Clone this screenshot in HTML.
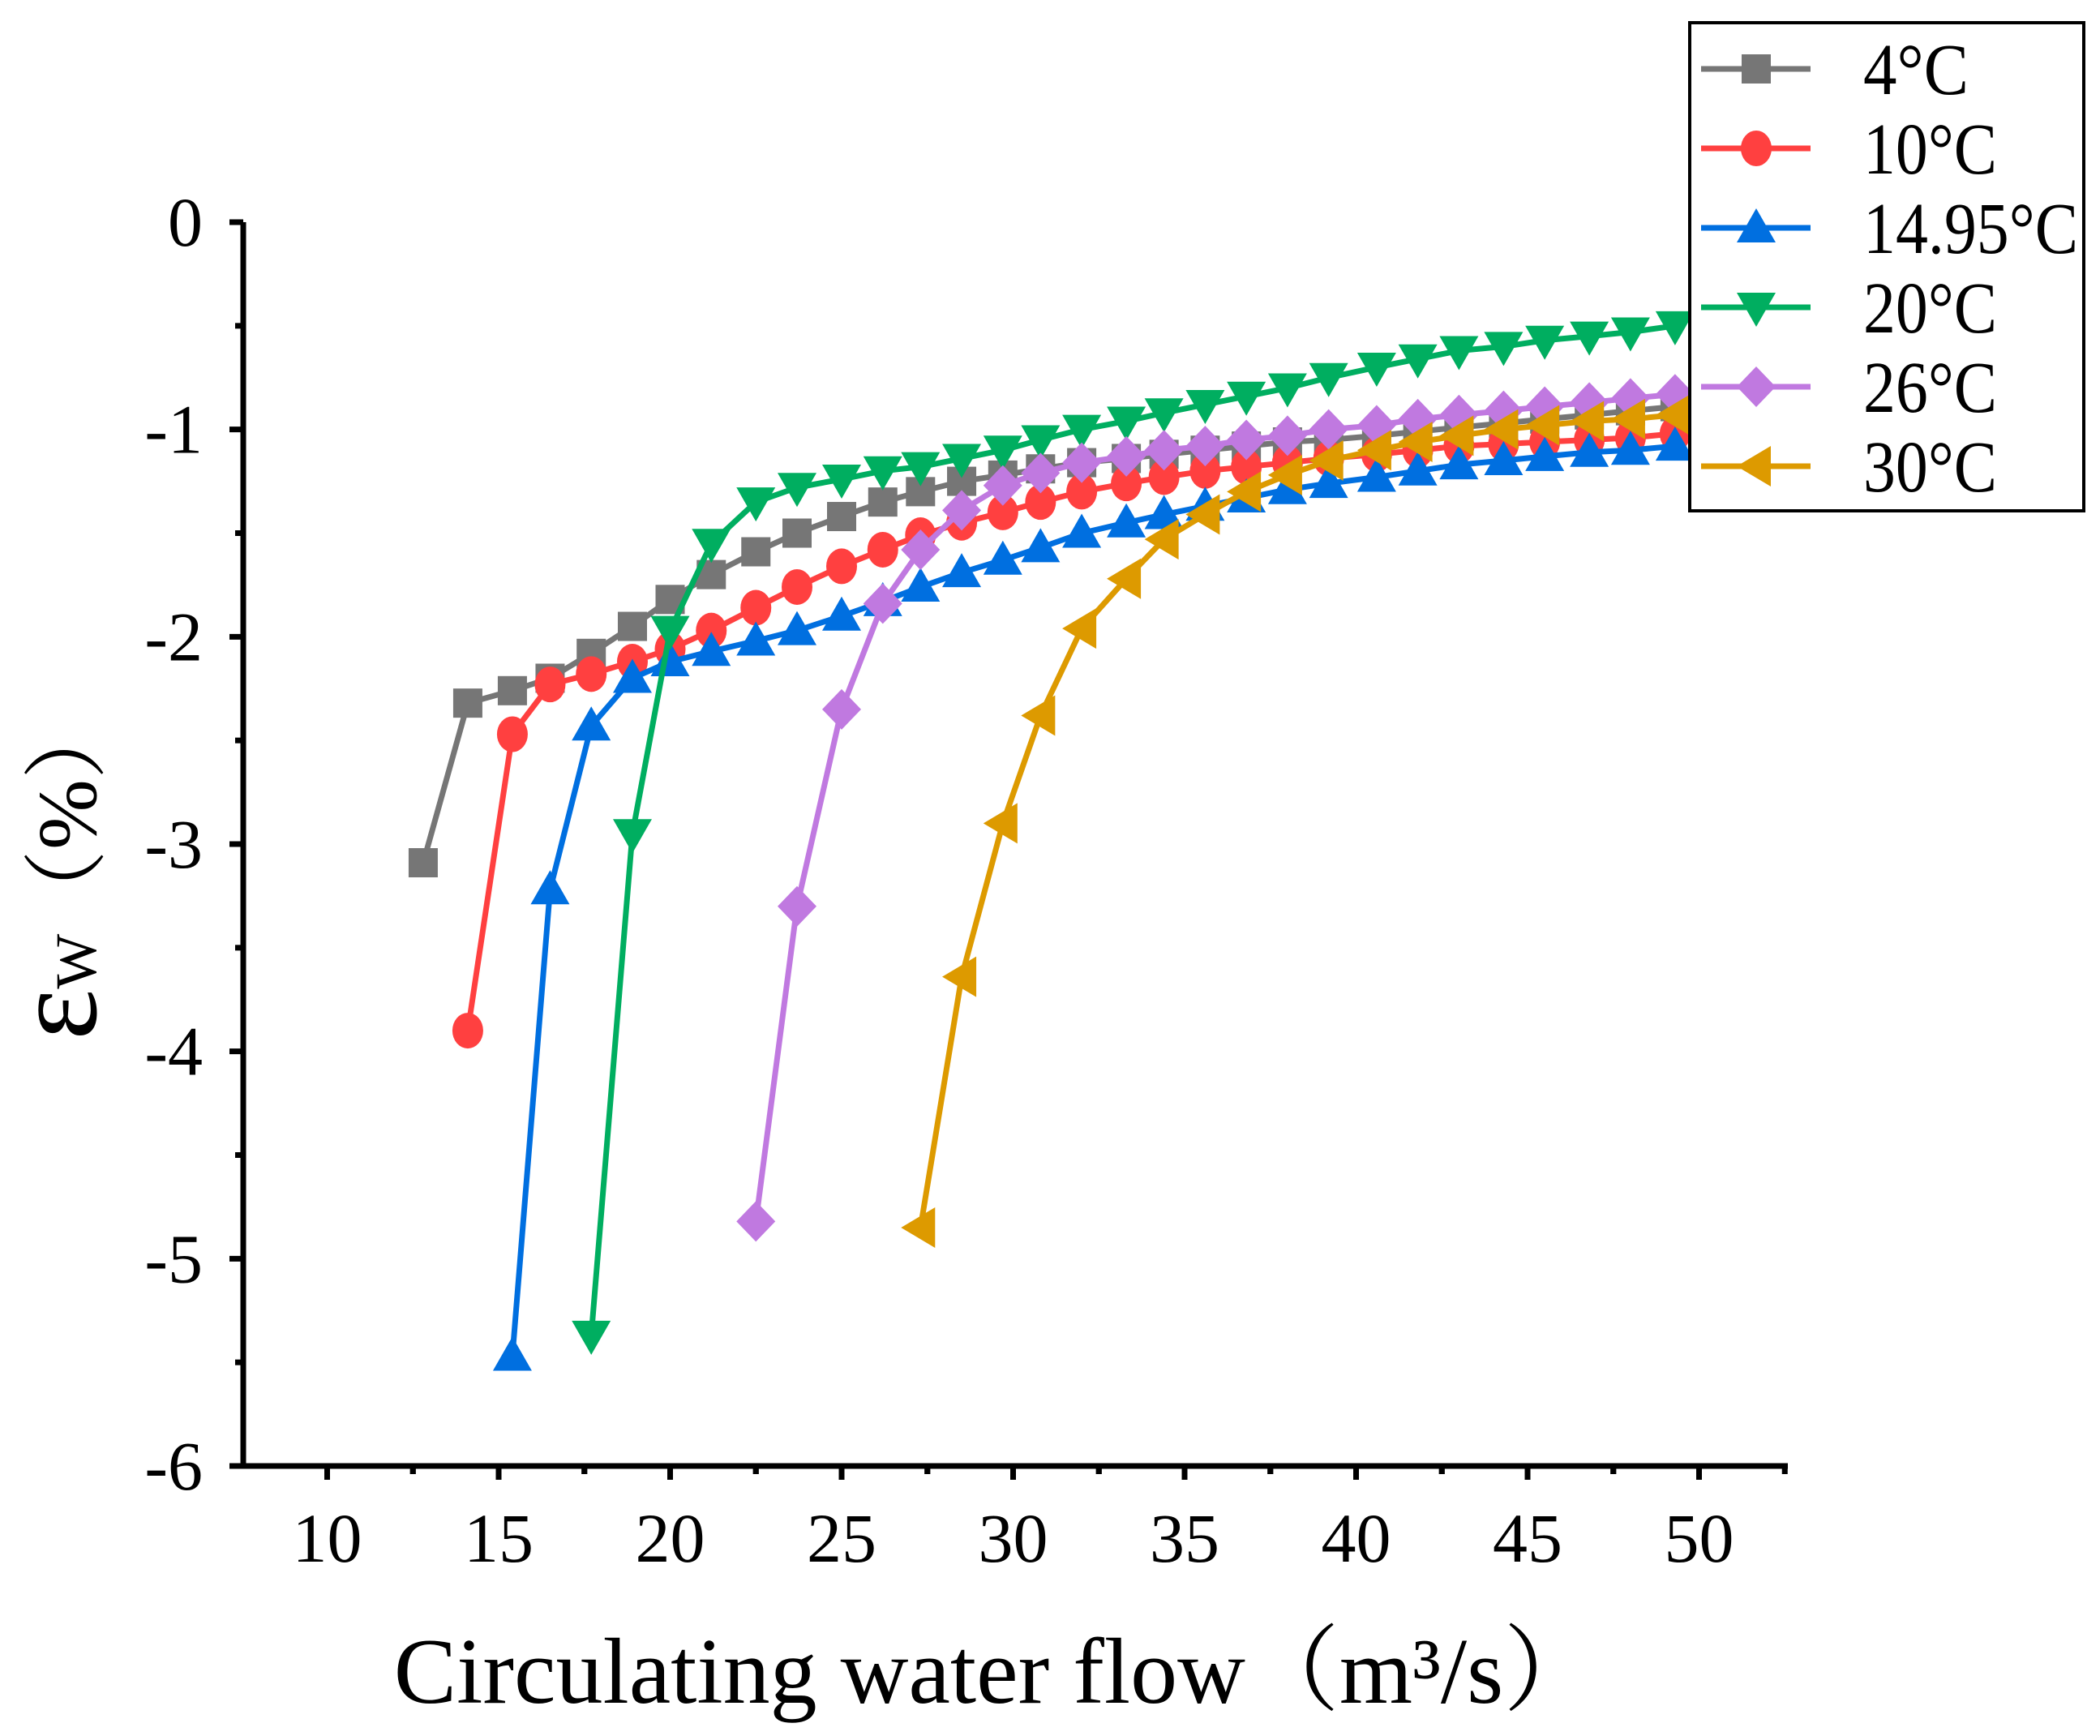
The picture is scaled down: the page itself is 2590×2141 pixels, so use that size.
<!DOCTYPE html>
<html><head><meta charset="utf-8"><style>
html,body{margin:0;padding:0;background:#fff;}
svg{display:block;font-family:"Liberation Serif","Noto Serif CJK SC",serif;}
</style></head><body>
<svg id="chart" width="2590" height="2141" viewBox="0 0 2590 2141" xmlns="http://www.w3.org/2000/svg">
<g id="axes"></g>
<g id="series"></g>
<g id="legend"></g>
<text x="1228" y="2100" font-size="116" text-anchor="middle">Circulating water flow（m³/s）</text>
<g transform="translate(118,1070) rotate(-90)">
<text text-anchor="middle" font-size="150">ε<tspan font-size="72">W</tspan><tspan font-size="104">（%）</tspan></text>
</g>
</svg>
<script>
const xGrid = [12.8,14.1,15.4,16.5,17.7,18.9,20.0,21.2,22.5,23.7,25.0,26.2,27.3,28.5,29.7,30.8,32.0,33.3,34.4,35.6,36.8,38.0,39.2,40.6,41.8,43.0,44.3,45.5,46.8,48.0,49.3];
const seriesNames = ["4°C","10°C","14.95°C","20°C","26°C","30°C"];
const startIndex = [0,1,2,4,8,12];
const s4 = [-3.09,-2.32,-2.26,-2.2,-2.08,-1.95,-1.82,-1.7,-1.59,-1.5,-1.42,-1.35,-1.3,-1.25,-1.22,-1.19,-1.16,-1.14,-1.12,-1.1,-1.08,-1.06,-1.05,-1.03,-1.01,-0.99,-0.97,-0.95,-0.93,-0.91,-0.89];
const s10 = [-3.9,-2.47,-2.23,-2.18,-2.12,-2.06,-1.97,-1.86,-1.76,-1.66,-1.58,-1.51,-1.45,-1.4,-1.35,-1.3,-1.26,-1.23,-1.2,-1.18,-1.16,-1.14,-1.12,-1.1,-1.08,-1.07,-1.06,-1.05,-1.04,-1.02];
const s1495 = [-5.47,-3.22,-2.43,-2.2,-2.12,-2.07,-2.02,-1.97,-1.9,-1.83,-1.76,-1.69,-1.63,-1.57,-1.5,-1.45,-1.41,-1.37,-1.33,-1.29,-1.26,-1.23,-1.2,-1.17,-1.15,-1.13,-1.11,-1.1,-1.08];
const s20 = [-5.37,-2.95,-1.97,-1.55,-1.35,-1.28,-1.24,-1.2,-1.18,-1.14,-1.1,-1.05,-1.0,-0.96,-0.92,-0.88,-0.84,-0.8,-0.75,-0.7,-0.66,-0.62,-0.6,-0.57,-0.55,-0.53,-0.5,-0.47];
const s26 = [-4.82,-3.3,-2.35,-1.84,-1.58,-1.39,-1.27,-1.21,-1.16,-1.13,-1.1,-1.08,-1.05,-1.03,-1.0,-0.98,-0.95,-0.93,-0.91,-0.89,-0.87,-0.85,-0.83,-0.8];
const s30 = [-4.85,-3.64,-2.9,-2.38,-1.96,-1.72,-1.53,-1.41,-1.3,-1.22,-1.15,-1.1,-1.06,-1.03,-1.0,-0.98,-0.96,-0.95,-0.93];
const xTicks = [10,15,20,25,30,35,40,45,50];
const yTicks = [0,-1,-2,-3,-4,-5,-6];

const allSeries=[s4,s10,s1495,s20,s26,s30];
const colors=["#767676","#ff4040","#006fe0","#00ae60","#c079e0","#dd9a00"];
const shapes=["square","circle","up","down","diamond","left"];
const NS="http://www.w3.org/2000/svg";
const X0=300,XR=2205,YT=274,YB=1808;
function X(v){return 403.5+(v-10)*42.3;}
function Y(v){return YT+(0-v)*(YB-YT)/6;}
function mk(tag,attrs,parent){const e=document.createElementNS(NS,tag);for(const k in attrs)e.setAttribute(k,attrs[k]);parent.appendChild(e);return e;}

const axes=document.getElementById('axes');
let l=mk('line',{x1:X0,y1:YT,x2:X0,y2:YB+3,stroke:'#000','stroke-width':7},axes);


l=mk('line',{x1:X0-3,y1:YB,x2:XR,y2:YB,stroke:'#000','stroke-width':7},axes);


yTicks.forEach(v=>{
  const t=mk('line',{x1:X0-17,y1:Y(v),x2:X0,y2:Y(v),stroke:'#000','stroke-width':7},axes);
  
  
  const tx=mk('text',{x:X0-50,y:Y(v)+29,'font-size':86,'text-anchor':'end'},axes);
  tx.textContent=v;
  
  
  if(v>-6){const m=mk('line',{x1:X0-10,y1:Y(v-0.5),x2:X0,y2:Y(v-0.5),stroke:'#000','stroke-width':7},axes);
  
  }
});
xTicks.forEach(v=>{
  const t=mk('line',{x1:X(v),y1:YB,x2:X(v),y2:YB+17,stroke:'#000','stroke-width':7},axes);
  
  
  const tx=mk('text',{x:X(v),y:YB+118,'font-size':86,'text-anchor':'middle'},axes);
  tx.textContent=v;
  
  
  [v-2.5,v+2.5].forEach(mv=>{if(X(mv)>X0&&X(mv)<XR){const m=mk('line',{x1:X(mv),y1:YB,x2:X(mv),y2:YB+10,stroke:'#000','stroke-width':7},axes);
  
  }});
});

function marker(shape,cx,cy,c,parent){
  const r=18;let e;
  if(shape==='square')e=mk('rect',{x:cx-r,y:cy-r,width:2*r,height:2*r,fill:c},parent);
  else if(shape==='circle')e=mk('ellipse',{cx:cx,cy:cy,rx:r+1,ry:r+4,fill:c},parent);
  else if(shape==='up')e=mk('polygon',{points:`${cx},${cy-r-6} ${cx-r-6},${cy+r} ${cx+r+6},${cy+r}`,fill:c},parent);
  else if(shape==='down')e=mk('polygon',{points:`${cx},${cy+r+6} ${cx-r-6},${cy-r} ${cx+r+6},${cy-r}`,fill:c},parent);
  else if(shape==='diamond')e=mk('polygon',{points:`${cx},${cy-r-7} ${cx+r+6},${cy} ${cx},${cy+r+7} ${cx-r-6},${cy}`,fill:c},parent);
  else e=mk('polygon',{points:`${cx-r-6},${cy} ${cx+r},${cy-r-7} ${cx+r},${cy+r+7}`,fill:c},parent);
  return e;
}
const sg=document.getElementById('series');
allSeries.forEach((arr,si)=>{
  const g=mk('g',{},sg);
  
  
  const pts=arr.map((v,i)=>X(xGrid[startIndex[si]+i])+','+Y(v)).join(' ');
  const pl=mk('polyline',{points:pts,fill:'none',stroke:colors[si],'stroke-width':7,'stroke-linejoin':'round'},g);
  
  
  arr.forEach((v,i)=>{
    const m=marker(shapes[si],X(xGrid[startIndex[si]+i]),Y(v),colors[si],g);
    
    
  });
});

const lg=document.getElementById('legend');
const box=mk('rect',{x:2084,y:28,width:486,height:602,fill:'#fff',stroke:'#000','stroke-width':4},lg);


const legendWidths=[130,165,265,165,165,165];
seriesNames.forEach((n,i)=>{
  const y=85+i*98;
  const g=mk('g',{},lg);
  
  
  mk('line',{x1:2098,y1:y,x2:2233,y2:y,stroke:colors[i],'stroke-width':7},g);
  marker(shapes[i],2166,y,colors[i],g);
  const t=mk('text',{x:2298,y:y+31,'font-size':90,textLength:legendWidths[i],lengthAdjust:'spacingAndGlyphs'},g);
  t.textContent=n;
});
</script>
</body></html>
